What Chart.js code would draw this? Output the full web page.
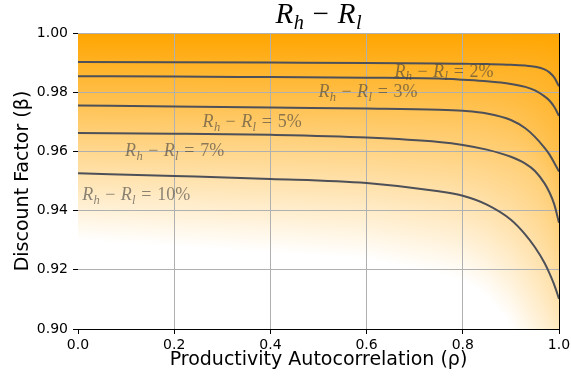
<!DOCTYPE html>
<html>
<head>
<meta charset="utf-8">
<script src="https://cdn.jsdelivr.net/npm/chart.js@4.4.1/dist/chart.umd.min.js"></script>
<style>
  html, body { margin: 0; padding: 0; background: #fff; }
  #wrap { width: 571px; height: 379px; }
</style>
</head>
<body>
<div id="wrap"><canvas id="chart"></canvas></div>
<script>
// productivity autocorrelation grid, and discount factor on each contour
const rho = [0, 0.2, 0.4, 0.6, 0.75, 0.8, 0.85, 0.9, 0.93, 0.95, 0.97, 0.98, 0.99, 1.0];
const levels = [2, 3, 5, 7, 10];
const beta2 = [0.9902, 0.9901, 0.9900, 0.9899, 0.9897, 0.9896, 0.9895, 0.9893, 0.9890, 0.9886, 0.9877, 0.9867, 0.9850, 0.9820];
const beta3 = [0.9854, 0.9853, 0.9851, 0.9849, 0.9846, 0.9842, 0.9837, 0.9828, 0.9818, 0.9806, 0.9786, 0.9772, 0.9751, 0.9720];
const beta5 = [0.9755, 0.9752, 0.9748, 0.9745, 0.9741, 0.9737, 0.9728, 0.9706, 0.9678, 0.9649, 0.9612, 0.9590, 0.9562, 0.9532];
const beta7 = [0.9662, 0.9660, 0.9656, 0.9647, 0.9632, 0.9622, 0.9606, 0.9582, 0.9559, 0.9534, 0.9492, 0.9462, 0.9422, 0.9359];
const beta10 = [0.9526, 0.9517, 0.9507, 0.9493, 0.9465, 0.9450, 0.9420, 0.9369, 0.9319, 0.9276, 0.9223, 0.9189, 0.9150, 0.9102];
const contours = [beta2, beta3, beta5, beta7, beta10];

const xTicks = [0, 0.2, 0.4, 0.6, 0.8, 1.0];
const xTickLabels = ['0.0', '0.2', '0.4', '0.6', '0.8', '1.0'];
const yTicks = [0.90, 0.92, 0.94, 0.96, 0.98, 1.00];
const yTickLabels = ['0.90', '0.92', '0.94', '0.96', '0.98', '1.00'];

// where the contour labels sit (data coords of label centre)
const labelAt = [
  { x: 0.761, y: 0.9873 },
  { x: 0.603, y: 0.9805 },
  { x: 0.362, y: 0.9703 },
  { x: 0.201, y: 0.9605 },
  { x: 0.121, y: 0.9456 },
];

const SERIF = '"Liberation Serif", "DejaVu Serif", serif';

function interp(xs, ys, v) {
  if (v <= xs[0]) return ys[0];
  for (let i = 1; i < xs.length; i++) {
    if (v <= xs[i]) {
      const t = (v - xs[i - 1]) / (xs[i] - xs[i - 1]);
      return ys[i - 1] + t * (ys[i] - ys[i - 1]);
    }
  }
  return ys[ys.length - 1];
}

// parts: [text, kind]  kind: i = italic, s = italic subscript, r = roman, g = gap (em)
function drawMath(ctx, parts, cx, cy, size, color) {
  const subSize = size * 0.7;
  const widths = parts.map(([t, k]) => {
    if (k === 'g') return t * size;
    ctx.font = (k === 'r' ? '' : 'italic ') + (k === 's' ? subSize : size) + 'px ' + SERIF;
    return ctx.measureText(t).width;
  });
  const total = widths.reduce((a, b) => a + b, 0);
  let x = cx - total / 2;
  const base = cy + size * 0.33;
  ctx.fillStyle = color;
  ctx.textAlign = 'left';
  ctx.textBaseline = 'alphabetic';
  parts.forEach(([t, k], i) => {
    if (k !== 'g') {
      ctx.font = (k === 'r' ? '' : 'italic ') + (k === 's' ? subSize : size) + 'px ' + SERIF;
      ctx.fillText(t, x, base + (k === 's' ? size * 0.22 : 0));
    }
    x += widths[i];
  });
}

const rhRl = [['R', 'i'], [0.02, 'g'], ['h', 's'], [0.3, 'g'], ['\u2212', 'r'], [0.3, 'g'], ['R', 'i'], [0.02, 'g'], ['l', 's']];

const fieldPlugin = {
  id: 'field',
  beforeDraw(chart) {
    const { ctx, chartArea: a, scales: { x, y } } = chart;
    const vmax = 15;
    const col = v => {
      const t = Math.max(0, Math.min(1, v / vmax));
      return 'rgb(255,' + Math.round(165 + 90 * t) + ',' + Math.round(255 * t) + ')';
    };
    const h = a.bottom - a.top;
    ctx.save();
    for (let px = Math.floor(a.left); px < Math.ceil(a.right); px++) {
      const r = x.getValueForPixel(px + 0.5);
      const pts = [{ y: y.getPixelForValue(1.0), v: 0 }];
      contours.forEach((c, k) => pts.push({ y: y.getPixelForValue(interp(rho, c, r)), v: levels[k] }));
      const n = pts.length;
      const slope = (pts[n - 1].v - pts[n - 2].v) / (pts[n - 1].y - pts[n - 2].y);
      const last = pts[n - 1];
      const vb = last.v + slope * (a.bottom - last.y);
      if (vb > vmax) {
        pts.push({ y: last.y + (vmax - last.v) / slope, v: vmax });
      }
      pts.push({ y: a.bottom, v: vb });
      const g = ctx.createLinearGradient(0, a.top, 0, a.bottom);
      pts.forEach(p => {
        g.addColorStop(Math.max(0, Math.min(1, (p.y - a.top) / h)), col(p.v));
      });
      ctx.fillStyle = g;
      ctx.fillRect(px, a.top, 1, h);
    }
    ctx.restore();
  },
  afterDatasetsDraw(chart) {
    const { ctx, scales: { x, y } } = chart;
    ctx.save();
    levels.forEach((lv, k) => {
      const parts = rhRl.concat([[0.32, 'g'], ['=', 'r'], [0.32, 'g'], [lv + '%', 'r']]);
      drawMath(ctx, parts, x.getPixelForValue(labelAt[k].x), y.getPixelForValue(labelAt[k].y), 18, 'rgba(60,60,60,0.6)');
    });
    ctx.restore();
  },
  afterDraw(chart) {
    const { ctx, chartArea: a } = chart;
    ctx.save();
    // right spine
    ctx.strokeStyle = '#000';
    ctx.lineWidth = 1;
    ctx.beginPath();
    ctx.moveTo(a.right + 0.5, a.top);
    ctx.lineTo(a.right + 0.5, a.bottom);
    ctx.stroke();
    // title
    drawMath(ctx, rhRl, (a.left + a.right) / 2, 13, 29, '#000');
    ctx.restore();
  }
};

Chart.defaults.font.family = '"DejaVu Sans", sans-serif';
Chart.defaults.color = '#000';

const datasets = contours.map((c, k) => ({
  label: levels[k] + '%',
  data: rho.map((r, i) => ({ x: r, y: c[i] })),
  borderColor: '#4d5058',
  borderWidth: 2,
  pointRadius: 0,
  cubicInterpolationMode: 'monotone',
  fill: false,
}));

new Chart(document.getElementById('chart'), {
  type: 'line',
  data: { datasets },
  plugins: [fieldPlugin],
  options: {
    responsive: true,
    maintainAspectRatio: false,
    animation: false,
    layout: { padding: { top: 33, right: 12, left: 0, bottom: 0 } },
    plugins: { legend: { display: false }, tooltip: { enabled: false } },
    scales: {
      x: {
        type: 'linear',
        min: 0,
        max: 1,
        afterBuildTicks: s => { s.ticks = xTicks.map(v => ({ value: v })); },
        afterFit: s => { s.height = 50; s.paddingLeft = 0; s.paddingRight = 0; },
        ticks: {
          font: { size: 14 },
          padding: 3,
          maxRotation: 0,
          callback: v => xTickLabels[xTicks.indexOf(v)],
        },
        grid: {
          color: ctx => (ctx.tick && ctx.tick.value === 0 ? 'rgba(0,0,0,0)' : '#b0b0b0'),
          tickColor: '#000',
          tickLength: 5,
          lineWidth: 1,
        },
        border: { display: true, color: '#000', width: 1 },
        title: {
          display: true,
          text: 'Productivity Autocorrelation (\u03c1)',
          font: { size: 19 },
          padding: { top: 0, bottom: 8 },
        },
      },
      y: {
        type: 'linear',
        min: 0.9,
        max: 1.0,
        afterBuildTicks: s => { s.ticks = yTicks.map(v => ({ value: v })); },
        afterFit: s => { s.width = 78; },
        ticks: {
          font: { size: 14 },
          padding: 5,
          callback: v => yTickLabels[yTicks.findIndex(t => Math.abs(t - v) < 1e-9)],
        },
        grid: {
          color: '#b0b0b0',
          tickColor: '#000',
          tickLength: 5,
          lineWidth: 1,
        },
        border: { display: false },
        title: {
          display: true,
          text: 'Discount Factor (\u03b2)',
          font: { size: 19 },
          padding: { top: 12, bottom: 0 },
        },
      },
    },
  },
});
</script>
</body>
</html>
